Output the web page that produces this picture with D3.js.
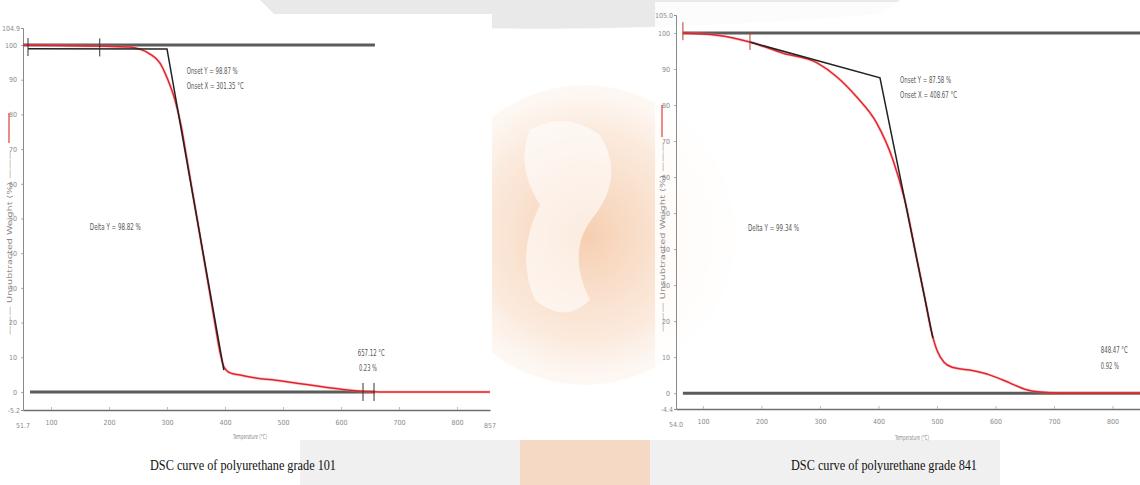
<!DOCTYPE html>
<html>
<head>
<meta charset="utf-8">
<script src="https://cdn.jsdelivr.net/npm/d3@7"></script>
<style>
  html, body { margin: 0; padding: 0; background: #fff; }
  svg { display: block; }
  .tick-label { font-family: "DejaVu Sans Condensed", "DejaVu Sans", sans-serif; font-size: 7px; fill: #8a8a8a; }
  .note { font-family: "DejaVu Sans Condensed", "DejaVu Sans", sans-serif; font-size: 9px; fill: #555; }
  .caption { font-family: "Liberation Serif", "Times New Roman", serif; font-size: 15px; fill: #111; }
</style>
</head>
<body>
<svg id="chart" width="1140" height="485"></svg>
<script>
// ---- Grade 101 thermogram ----
const g101Temp   = [51.7, 115, 184, 236, 253, 270.7, 287.9, 301.7, 313.8, 324.1, 334.5, 344.8, 355.2, 365.5, 375.9, 384.5, 391.4, 398.3, 408.6, 425.9, 443, 495, 547, 598, 641, 667, 857];
const g101Weight = [100, 99.85, 99.7, 99.4, 98.8, 97.4, 94.8, 89.9, 84.1, 76.9, 66.9, 56.8, 46.7, 36.6, 26.5, 17.9, 11.5, 7.2, 5.5, 4.9, 4.3, 3.2, 2.0, 0.86, 0.14, 0, 0];
const g101TangentTemp   = [60.3, 300, 398];
const g101TangentWeight = [98.95, 98.87, 6.3];
const g101Baselines = [{ t0: 51.7, t1: 658.6, w: 100 }, { t0: 63.8, t1: 658.6, w: 0 }];
const g101Markers = [{ t: 60.3, w: 99.4 }, { t: 184, w: 99.3 }, { t: 638, w: 0 }, { t: 657, w: 0 }];
const g101Notes = [
  { text: "Onset Y = 98.87 %", t: 334, w: 91.6 },
  { text: "Onset X = 301.35 °C", t: 334, w: 87.3 },
  { text: "Delta Y = 98.82 %", t: 167, w: 46.6 },
  { text: "657.12 °C", t: 629, w: 10.5 },
  { text: "0.23 %", t: 631, w: 5.9 }
];
const g101TempTicks = [100, 200, 300, 400, 500, 600, 700, 800];
const g101TempEnds = ["51.7", "857"];
const g101WeightTicks = [0, 10, 20, 30, 40, 50, 60, 70, 80, 90, 100];
const g101WeightEnds = ["-5.2", "104.9"];

// ---- Grade 841 thermogram ----
const g841Temp   = [65.8, 124, 180, 237, 295, 329, 363, 397, 425, 445, 466, 480, 490, 500, 512, 526, 556, 591, 625, 650, 676, 710, 847];
const g841Weight = [100, 99.4, 97.5, 94.4, 91.7, 87.8, 82.2, 75, 64.7, 53.6, 36.9, 25.8, 17.5, 11.9, 8.6, 7.2, 6.4, 5.0, 2.8, 1.1, 0.3, 0, 0];
const g841TangentTemp   = [180, 402.6, 493];
const g841TangentWeight = [97.5, 87.58, 15.3];
const g841Baselines = [{ t0: 65.8, t1: 847, w: 100 }, { t0: 65.8, t1: 847, w: 0 }];
const g841Markers = [{ t: 65.8, w: 100.5 }, { t: 180.4, w: 97.8 }];
const g841Notes = [
  { text: "Onset Y = 87.58 %", t: 437, w: 86.2 },
  { text: "Onset X = 408.67 °C", t: 437, w: 82.0 },
  { text: "Delta Y = 99.34 %", t: 177, w: 45.0 },
  { text: "848.47 °C", t: 780, w: 11.2 },
  { text: "0.92 %", t: 780, w: 6.8 }
];
const g841TempTicks = [100, 200, 300, 400, 500, 600, 700, 800];
const g841TempEnds = ["54.0", null];
const g841WeightTicks = [0, 10, 20, 30, 40, 50, 60, 70, 80, 90, 100];
const g841WeightEnds = ["-4.4", "105.0"];

const captions = ["DSC curve of polyurethane grade 101", "DSC curve of polyurethane grade 841"];

const svg = d3.select("#chart");
const defs = svg.append("defs");

// faint institutional watermark behind both panels
const grad = defs.append("radialGradient").attr("id", "wm");
grad.append("stop").attr("offset", "0%").attr("stop-color", "#f2b98e").attr("stop-opacity", 0.7);
grad.append("stop").attr("offset", "70%").attr("stop-color", "#f8d9c1").attr("stop-opacity", 0.55);
grad.append("stop").attr("offset", "100%").attr("stop-color", "#fbe9dc").attr("stop-opacity", 0.3);

const wm = svg.append("g");
wm.append("path")
  .attr("d", "M260,0 L900,0 L880,14 Q580,40 280,20 Z")
  .attr("fill", "#e9e9e9");
wm.append("circle").attr("cx", 585).attr("cy", 235).attr("r", 150).attr("fill", "url(#wm)");
wm.append("path")
  .attr("d", "M530,130 Q565,110 600,135 Q625,175 595,215 Q565,250 590,300 Q565,325 535,300 Q515,255 540,205 Q515,165 530,130 Z")
  .attr("fill", "#ffffff").attr("opacity", 0.6);
wm.append("rect").attr("x", 300).attr("y", 440).attr("width", 700).attr("height", 45).attr("fill", "#ececec").attr("opacity", 0.8);
wm.append("rect").attr("x", 520).attr("y", 440).attr("width", 130).attr("height", 45).attr("fill", "#f6cfb2").attr("opacity", 0.7);

function drawPanel(cfg) {
  const g = svg.append("g");
  g.append("rect")
    .attr("x", cfg.bg[0]).attr("y", cfg.bg[1]).attr("width", cfg.bg[2]).attr("height", cfg.bg[3])
    .attr("fill", "#fff").attr("opacity", cfg.bgOpacity);

  const x = d3.scaleLinear().domain(cfg.tDomain).range(cfg.xRange);
  const y = d3.scaleLinear().domain(cfg.wDomain).range(cfg.yRange);

  const [x0, x1] = cfg.xRange;
  const [yb, yt] = cfg.yRange;

  // axes built with d3.axis, then restyled to the instrument look
  const xAxis = d3.axisBottom(x).tickValues(cfg.tTicks).tickSize(0).tickPadding(10).tickFormat(d3.format("d"));
  const xa = g.append("g").attr("transform", `translate(0,${yb})`).call(xAxis);
  xa.select(".domain").attr("stroke", "#6f6f6f").attr("stroke-width", 1.4);
  xa.selectAll("text").attr("class", "tick-label").attr("fill", "#8a8a8a").attr("font-family", null).attr("font-size", null);
  xa.selectAll(".tick").append("line").attr("y1", 0).attr("y2", -3).attr("stroke", "#bbb");
  if (cfg.tEnds[0]) g.append("text").attr("class", "tick-label").attr("x", x0).attr("y", yb + 18).attr("text-anchor", "middle").text(cfg.tEnds[0]);
  if (cfg.tEnds[1]) g.append("text").attr("class", "tick-label").attr("x", x1).attr("y", yb + 18).attr("text-anchor", "middle").text(cfg.tEnds[1]);

  const yAxis = d3.axisLeft(y).tickValues(cfg.wTicks).tickSize(2).tickPadding(4);
  const ya = g.append("g").attr("transform", `translate(${x0},0)`).call(yAxis);
  ya.select(".domain").attr("stroke", "#8a8a8a").attr("stroke-width", 1);
  ya.selectAll(".tick line").attr("stroke", "#aaa");
  ya.selectAll("text").attr("class", "tick-label").attr("fill", "#8a8a8a").attr("font-family", null).attr("font-size", null);
  g.append("text").attr("class", "tick-label").attr("x", x0 - 3).attr("y", y(cfg.wDomain[0]) + 2.5).attr("text-anchor", "end").text(cfg.wEnds[0]);
  g.append("text").attr("class", "tick-label").attr("x", x0 - 3).attr("y", y(cfg.wDomain[1]) + 2.5).attr("text-anchor", "end").text(cfg.wEnds[1]);

  // axis titles
  g.append("text").attr("class", "tick-label")
    .attr("x", cfg.xTitle[0]).attr("y", cfg.xTitle[1]).attr("textLength", 34).attr("lengthAdjust", "spacingAndGlyphs")
    .text("Temperature (°C)");
  const yt0 = cfg.yTitleX;
  g.append("line").attr("x1", yt0).attr("x2", yt0).attr("y1", cfg.yTitleRed[0]).attr("y2", cfg.yTitleRed[1])
    .attr("stroke", "#e43a3a").attr("stroke-width", 1.2);
  g.append("text").attr("class", "tick-label")
    .attr("transform", `translate(${yt0 + 2.5},${cfg.yTitleSpan[1]}) rotate(-90)`)
    .attr("textLength", cfg.yTitleSpan[1] - cfg.yTitleSpan[0]).attr("lengthAdjust", "spacingAndGlyphs")
    .attr("fill", "#9a9a9a")
    .text("——— Unsubtracted Weight (%) ———");

  // flat reference lines at 100 % and 0 %
  g.selectAll(".base").data(cfg.baselines).join("line")
    .attr("x1", d => x(d.t0)).attr("x2", d => x(d.t1))
    .attr("y1", d => y(d.w)).attr("y2", d => y(d.w))
    .attr("stroke", "#4a4a4a").attr("stroke-width", 3).attr("opacity", 0.9);

  // measured weight-loss curve
  const line = d3.line().x(d => x(d[0])).y(d => y(d[1])).curve(d3.curveMonotoneX);
  const pts = d3.zip(cfg.temp, cfg.weight);
  g.append("path").datum(pts).attr("d", line)
    .attr("fill", "none").attr("stroke", "#f08080").attr("stroke-width", 3).attr("opacity", 0.35);
  g.append("path").datum(pts).attr("d", line)
    .attr("fill", "none").attr("stroke", "#e3232d").attr("stroke-width", 1.5);

  // onset tangent construction
  const tan = d3.line().x(d => x(d[0])).y(d => y(d[1]));
  g.append("path").datum(d3.zip(cfg.tanTemp, cfg.tanWeight)).attr("d", tan)
    .attr("fill", "none").attr("stroke", "#222").attr("stroke-width", 1.5);

  g.selectAll(".mark").data(cfg.markers).join("line")
    .attr("x1", d => x(d.t)).attr("x2", d => x(d.t))
    .attr("y1", d => y(d.w) - 9).attr("y2", d => y(d.w) + 9)
    .attr("stroke", cfg.markerColor).attr("stroke-width", 1);

  g.selectAll(".note").data(cfg.notes).join("text")
    .attr("class", "note")
    .attr("x", d => x(d.t)).attr("y", d => y(d.w))
    .attr("textLength", d => d.text.length * 3.0).attr("lengthAdjust", "spacingAndGlyphs")
    .text(d => d.text);

  svg.append("text").attr("class", "caption")
    .attr("x", cfg.caption[0]).attr("y", cfg.caption[1])
    .attr("textLength", 186).attr("lengthAdjust", "spacingAndGlyphs")
    .text(cfg.caption[2]);
}

drawPanel({
  bg: [0, 14, 492, 426], bgOpacity: 1,
  tDomain: [51.7, 857], xRange: [23, 490],
  wDomain: [-5.2, 104.9], yRange: [410, 28],
  tTicks: g101TempTicks, tEnds: g101TempEnds,
  wTicks: g101WeightTicks, wEnds: g101WeightEnds,
  xTitle: [233, 439], yTitleX: 9, yTitleRed: [113, 143], yTitleSpan: [150, 335],
  temp: g101Temp, weight: g101Weight,
  tanTemp: g101TangentTemp, tanWeight: g101TangentWeight,
  baselines: g101Baselines, markers: g101Markers, markerColor: "#333",
  notes: g101Notes,
  caption: [150, 470, captions[0]]
});

drawPanel({
  bg: [655, 2, 485, 438], bgOpacity: 0.85,
  tDomain: [54, 847], xRange: [676, 1140],
  wDomain: [-4.4, 105], yRange: [409, 15],
  tTicks: g841TempTicks, tEnds: g841TempEnds,
  wTicks: g841WeightTicks, wEnds: g841WeightEnds,
  xTitle: [895, 440], yTitleX: 662, yTitleRed: [105, 137], yTitleSpan: [142, 332],
  temp: g841Temp, weight: g841Weight,
  tanTemp: g841TangentTemp, tanWeight: g841TangentWeight,
  baselines: g841Baselines, markers: g841Markers, markerColor: "#c0392b",
  notes: g841Notes,
  caption: [791, 470, captions[1]]
});
</script>
</body>
</html>
